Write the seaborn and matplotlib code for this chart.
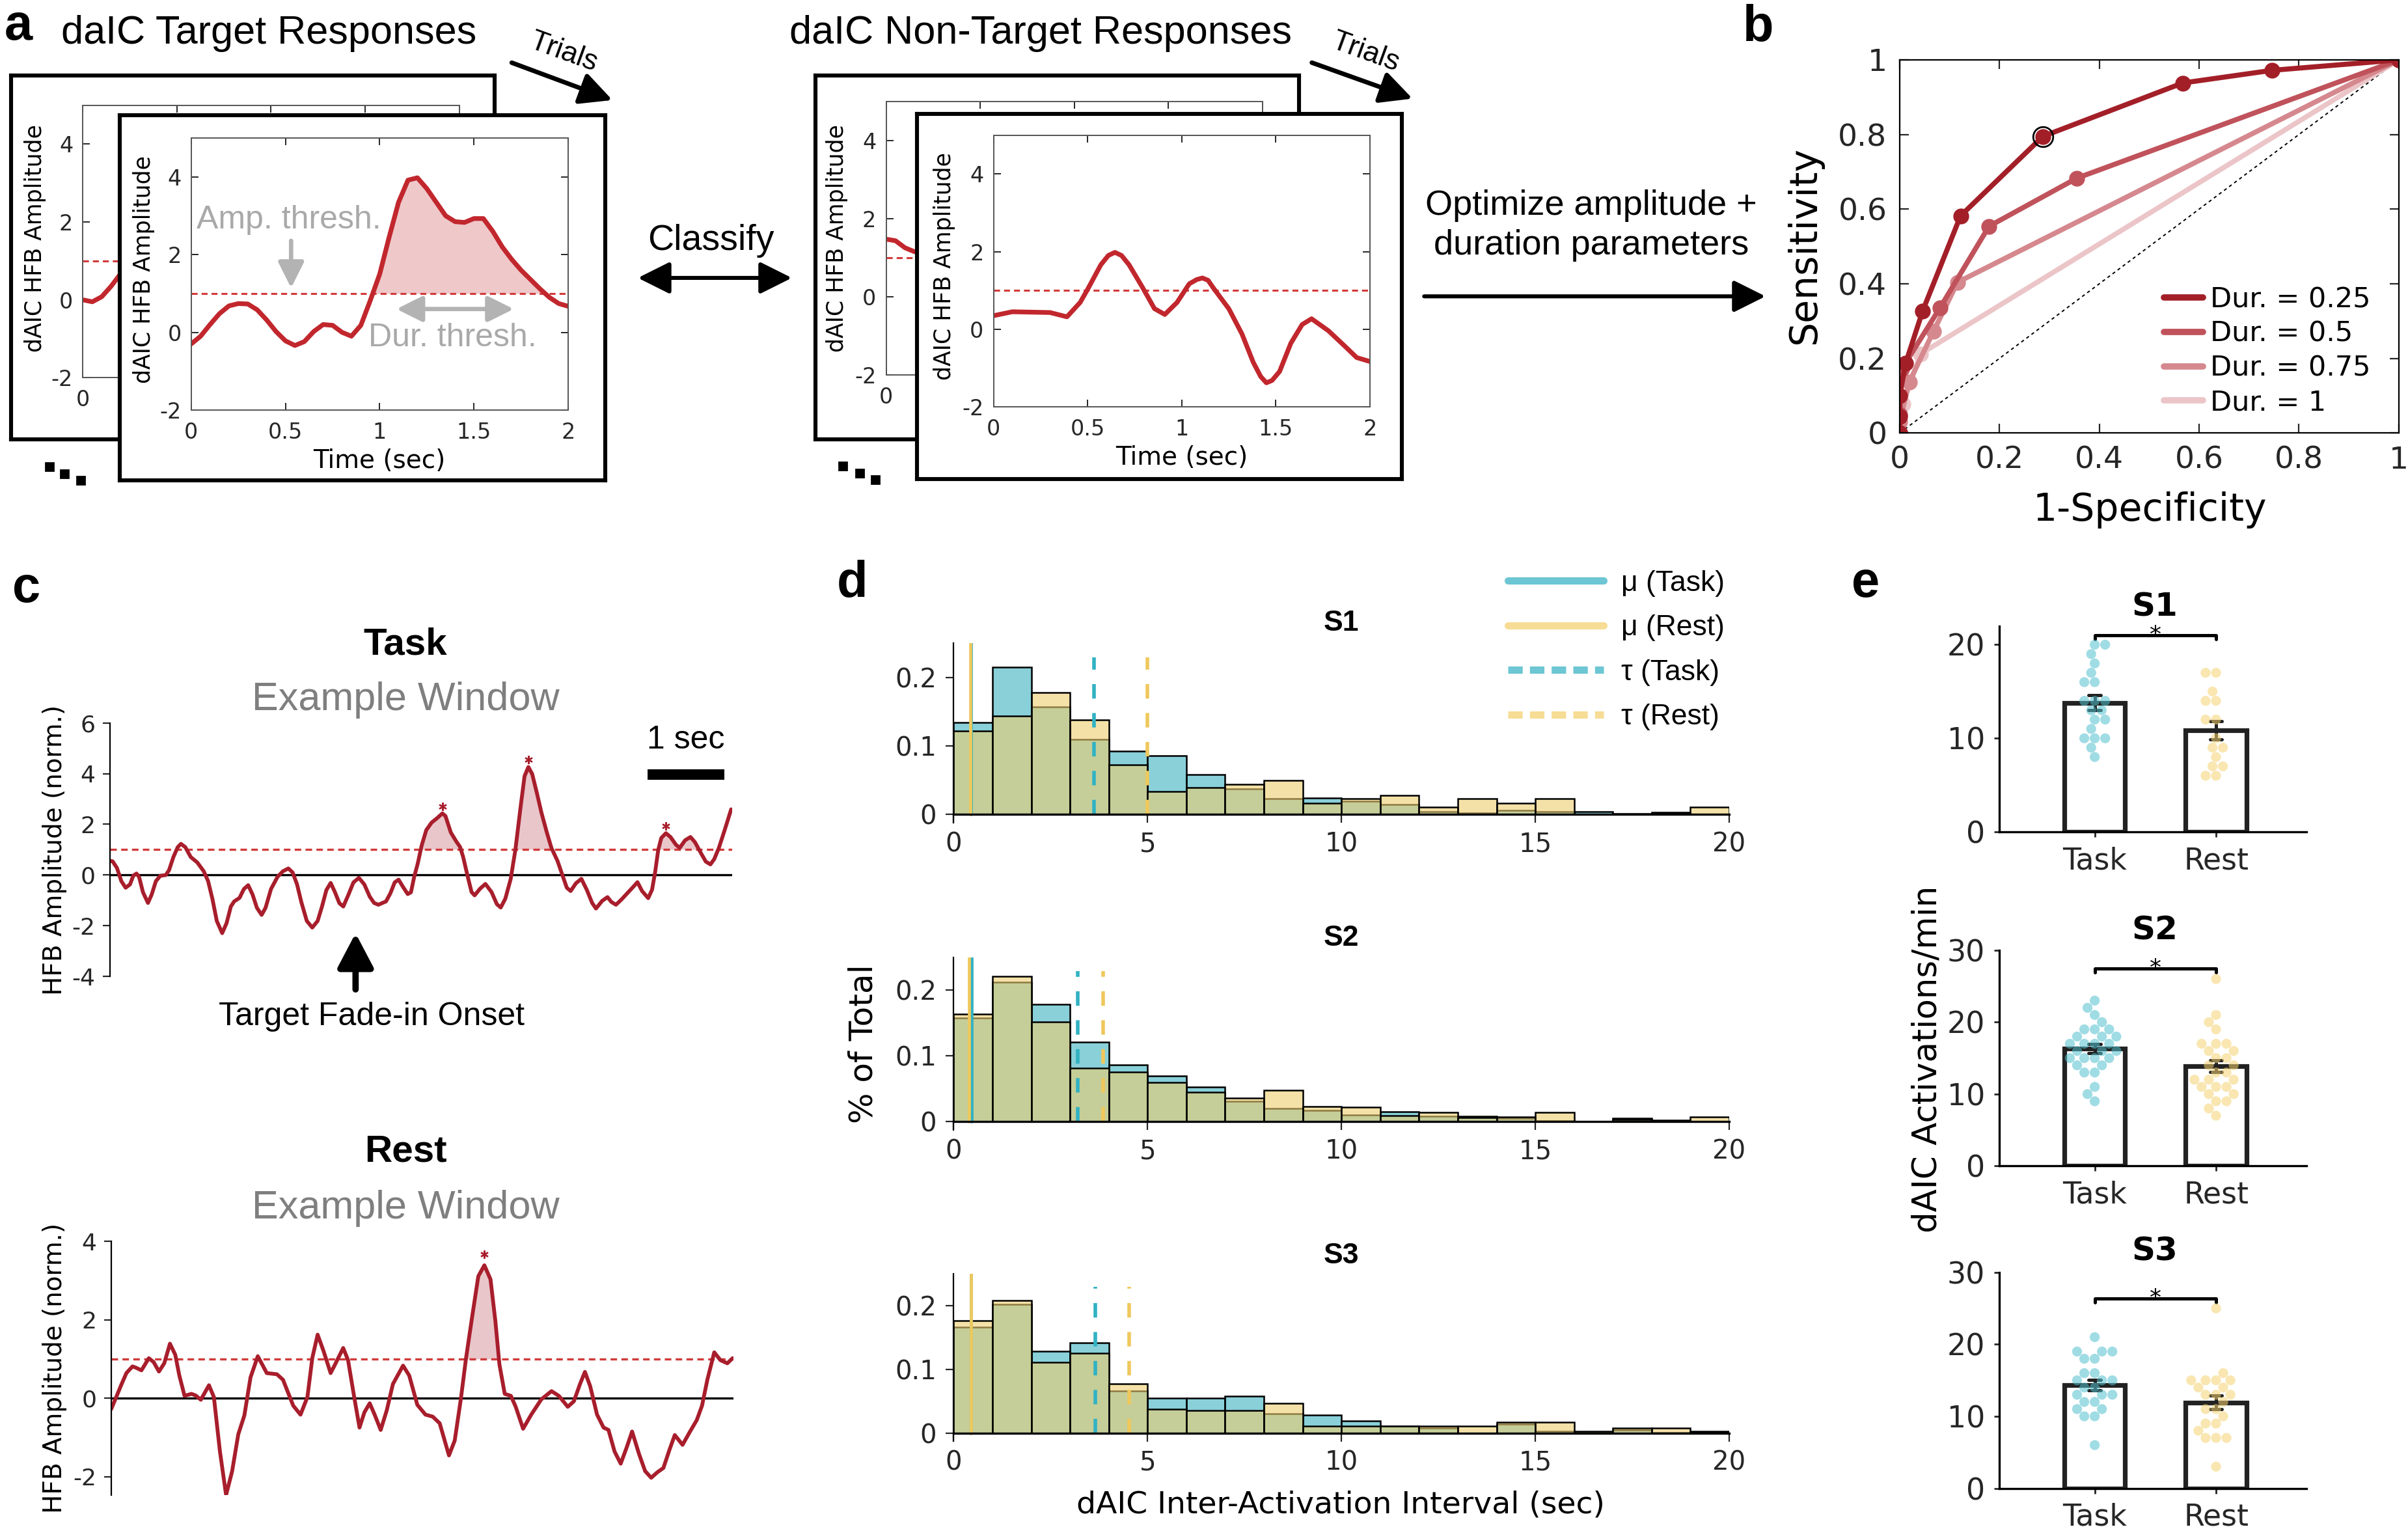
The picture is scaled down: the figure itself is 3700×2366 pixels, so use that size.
import numpy as np
import pandas as pd
import seaborn as sns
import matplotlib.pyplot as plt
from matplotlib.lines import Line2D
from matplotlib.patches import FancyArrowPatch

# ---------------- a: example dAIC HFB trials (time in sec) ----------------
target_t = [0, 0.05, 0.1, 0.15, 0.2, 0.25, 0.3, 0.35, 0.4, 0.45, 0.5, 0.55, 0.6, 0.65,
            0.7, 0.75, 0.8, 0.85, 0.9, 0.95, 1.0, 1.05, 1.1, 1.15, 1.2, 1.25, 1.3, 1.35,
            1.4, 1.45, 1.5, 1.55, 1.6, 1.65, 1.7, 1.75, 1.8, 1.85, 1.9, 1.95, 2.0]
target_y = [-0.3, -0.1, 0.2, 0.48, 0.68, 0.74, 0.73, 0.58, 0.32, 0.02, -0.22, -0.34, -0.24,
            0.02, 0.2, 0.18, 0.0, -0.1, 0.18, 0.82, 1.5, 2.45, 3.35, 3.92, 3.98, 3.7, 3.35,
            3.0, 2.85, 2.83, 2.93, 2.93, 2.6, 2.2, 1.88, 1.6, 1.36, 1.12, 0.9, 0.74, 0.67]
back_target_t = [0, 0.05, 0.1, 0.15, 0.2, 0.25, 0.3]
back_target_y = [0.0, -0.05, 0.08, 0.35, 0.67, 1.0, 1.3]

nontarget_t = [0, 0.1, 0.2, 0.3, 0.39, 0.46, 0.5, 0.57, 0.61, 0.645, 0.68, 0.72, 0.79, 0.855,
               0.91, 0.975, 1.04, 1.08, 1.11, 1.14, 1.17, 1.25, 1.32, 1.38, 1.42, 1.45, 1.48,
               1.52, 1.58, 1.64, 1.69, 1.78, 1.87, 1.93, 2.0]
nontarget_y = [0.35, 0.45, 0.44, 0.43, 0.32, 0.69, 1.03, 1.66, 1.9, 1.98, 1.9, 1.66, 1.09, 0.53,
               0.38, 0.69, 1.17, 1.28, 1.32, 1.26, 1.05, 0.53, -0.12, -0.85, -1.22, -1.38, -1.32,
               -1.09, -0.36, 0.12, 0.27, -0.04, -0.45, -0.73, -0.83]
back_nontarget_t = [0, 0.05, 0.1, 0.15, 0.2, 0.3]
back_nontarget_y = [1.47, 1.43, 1.25, 1.15, 1.12, 1.1]
amp_thresh = 1.0

# ---------------- b: ROC for each duration threshold ----------------
fpr_025 = [0, 0, 0, 0.012, 0.046, 0.122, 0.287, 0.567, 0.746, 1.0]
tpr_025 = [0, 0.044, 0.10, 0.187, 0.327, 0.582, 0.795, 0.938, 0.972, 1.0]
fpr_050 = [0, 0, 0.004, 0.081, 0.179, 0.355, 1.0]
tpr_050 = [0, 0.05, 0.171, 0.336, 0.554, 0.683, 1.0]
fpr_075 = [0, 0, 0.019, 0.068, 0.116, 1.0]
tpr_075 = [0, 0.03, 0.136, 0.273, 0.404, 1.0]
fpr_100 = [0, 0.006, 0.042, 1.0]
tpr_100 = [0, 0.077, 0.212, 1.0]
roc_best = 6

# ---------------- c: example windows (sec, normalized HFB) ----------------
task_t = [0, 0.037, 0.093, 0.15, 0.206, 0.263, 0.305, 0.347, 0.381, 0.432,
          0.497, 0.545, 0.6, 0.658, 0.729, 0.771, 0.828, 0.884, 0.926, 0.983,
          1.054, 1.138, 1.223, 1.28, 1.336, 1.393, 1.463, 1.52, 1.576, 1.619,
          1.689, 1.746, 1.802, 1.859, 1.915, 1.977, 2.028, 2.099, 2.184, 2.254,
          2.325, 2.381, 2.438, 2.494, 2.565, 2.636, 2.706, 2.763, 2.82, 2.876,
          2.932, 2.989, 3.04, 3.102, 3.172, 3.243, 3.314, 3.384, 3.441, 3.497,
          3.596, 3.653, 3.709, 3.76, 3.816, 3.879, 3.921, 3.963, 4.01, 4.06,
          4.12, 4.19, 4.26, 4.33, 4.37, 4.44, 4.51, 4.56, 4.6, 4.66,
          4.71, 4.75, 4.82, 4.89, 4.97, 5.04, 5.09, 5.15, 5.22, 5.28,
          5.35, 5.4, 5.45, 5.5, 5.56, 5.62, 5.69, 5.75, 5.83, 5.9,
          5.95, 6.0, 6.07, 6.14, 6.21, 6.28, 6.33, 6.41, 6.48, 6.53,
          6.59, 6.66, 6.74, 6.82, 6.87, 6.93, 7.01, 7.06, 7.1, 7.14,
          7.18, 7.24, 7.3, 7.37, 7.42, 7.49, 7.56, 7.62, 7.69, 7.76,
          7.82, 7.87, 7.93, 8.0, 8.09]
task_y = [0.56, 0.54, 0.28, -0.24, -0.5, -0.37, -0.03, 0.06, -0.07, -0.68,
          -1.1, -0.77, -0.24, -0.03, 0.0, 0.19, 0.71, 1.1, 1.23, 1.1,
          0.71, 0.5, 0.15, -0.24, -0.94, -1.81, -2.29, -1.9, -1.24, -1.04,
          -0.9, -0.55, -0.4, -0.77, -1.29, -1.57, -1.29, -0.55, -0.07, 0.15,
          0.26, 0.1, -0.37, -1.07, -1.81, -2.07, -1.81, -1.24, -0.59, -0.31,
          -0.68, -1.11, -1.24, -0.81, -0.29, -0.11, -0.37, -0.85, -1.1, -1.17,
          -1.04, -0.72, -0.29, -0.18, -0.46, -0.75, -0.68, -0.07, 0.46, 1.16,
          1.77, 2.07, 2.24, 2.43, 2.33, 1.68, 1.33, 1.11, 0.72, -0.06,
          -0.67, -0.8, -0.54, -0.35, -0.67, -1.15, -1.28, -0.93, -0.15, 0.98,
          2.72, 3.9, 4.26, 3.98, 3.24, 2.46, 1.68, 1.07, 0.55, -0.06,
          -0.5, -0.63, -0.32, -0.15, -0.58, -1.1, -1.32, -1.02, -0.87, -1.06,
          -1.17, -0.97, -0.71, -0.45, -0.28, -0.63, -0.91, -0.58, 0.11, 0.98,
          1.46, 1.65, 1.5, 1.2, 1.07, 1.37, 1.5, 1.29, 0.9, 0.53,
          0.42, 0.63, 1.07, 1.72, 2.59]
task_events = [4.33, 5.45, 7.24]
task_onset = 3.2

rest_t = [0, 0.066, 0.129, 0.198, 0.277, 0.32, 0.394, 0.49, 0.553, 0.622,
          0.691, 0.765, 0.834, 0.887, 0.955, 1.045, 1.099, 1.167, 1.273, 1.337,
          1.416, 1.496, 1.575, 1.655, 1.734, 1.814, 1.909, 2.026, 2.158, 2.237,
          2.37, 2.465, 2.555, 2.619, 2.688, 2.767, 2.857, 2.915, 3.021, 3.084,
          3.164, 3.233, 3.297, 3.366, 3.43, 3.509, 3.588, 3.668, 3.8, 3.88,
          3.986, 4.092, 4.186, 4.277, 4.398, 4.473, 4.552, 4.621, 4.7, 4.78,
          4.859, 4.939, 5.002, 5.055, 5.124, 5.204, 5.267, 5.363, 5.469, 5.6,
          5.733, 5.828, 5.945, 6.024, 6.104, 6.168, 6.236, 6.326, 6.411, 6.475,
          6.554, 6.634, 6.713, 6.782, 6.872, 6.952, 7.031, 7.111, 7.19, 7.27,
          7.338, 7.439, 7.534, 7.624, 7.693, 7.762, 7.852, 7.932, 8.022, 8.091]
rest_y = [-0.28, 0.03, 0.33, 0.64, 0.81, 0.78, 0.71, 1.02, 0.92, 0.68,
          0.89, 1.39, 1.11, 0.58, 0.06, 0.11, 0.07, -0.04, 0.33, 0.03,
          -1.36, -2.47, -1.86, -0.92, -0.44, 0.53, 1.07, 0.64, 0.61, 0.47,
          -0.19, -0.42, 0.03, 1.03, 1.62, 1.19, 0.64, 0.86, 1.28, 0.97,
          0.03, -0.75, -0.36, -0.13, -0.42, -0.81, -0.31, 0.36, 0.83, 0.58,
          -0.17, -0.42, -0.47, -0.64, -1.46, -1.08, -0.03, 1.03, 2.08, 3.11,
          3.39, 3.03, 1.97, 0.86, 0.11, 0.06, -0.22, -0.78, -0.42, -0.03,
          0.18, 0.06, -0.22, -0.08, 0.36, 0.67, 0.31, -0.42, -0.75, -0.81,
          -1.36, -1.67, -1.25, -0.85, -1.42, -1.86, -2.03, -1.89, -1.78, -1.31,
          -0.94, -1.19, -0.86, -0.56, -0.19, 0.47, 1.17, 0.97, 0.89, 1.02]
rest_events = [4.859]

# ---------------- d: inter-activation interval histograms (1-sec bins) ----------------
bin_edges = list(range(0, 21))
s1_task = [0.134, 0.215, 0.157, 0.109, 0.092, 0.086, 0.058, 0.037, 0.023, 0.024,
           0.019, 0.014, 0.004, 0.002, 0.006, 0.004, 0.004, 0.001, 0.003, 0.0005]
s1_rest = [0.122, 0.144, 0.178, 0.138, 0.072, 0.033, 0.039, 0.044, 0.050, 0.016,
           0.023, 0.028, 0.011, 0.023, 0.016, 0.023, 0.0, 0.0005, 0.001, 0.011]
s2_task = [0.158, 0.212, 0.179, 0.121, 0.086, 0.070, 0.053, 0.031, 0.020, 0.017,
           0.010, 0.015, 0.008, 0.008, 0.005, 0.001, 0.0, 0.005, 0.0025, 0.0005]
s2_rest = [0.164, 0.221, 0.152, 0.081, 0.075, 0.060, 0.045, 0.036, 0.048, 0.023,
           0.022, 0.009, 0.014, 0.006, 0.007, 0.014, 0.0, 0.003, 0.0015, 0.007]
s3_task = [0.166, 0.202, 0.128, 0.141, 0.066, 0.055, 0.055, 0.058, 0.030, 0.028,
           0.019, 0.0105, 0.008, 0.0, 0.014, 0.0025, 0.001, 0.005, 0.001, 0.0025]
s3_rest = [0.176, 0.208, 0.111, 0.125, 0.077, 0.037, 0.035, 0.035, 0.047, 0.011,
           0.011, 0.011, 0.011, 0.011, 0.017, 0.017, 0.0025, 0.008, 0.008, 0.0015]
mu_task = [0.44, 0.47, 0.44]
mu_rest = [0.43, 0.40, 0.44]
tau_task = [3.62, 3.2, 3.66]
tau_rest = [5.0, 3.86, 4.53]

# ---------------- e: activation rate per window ----------------
conds = ['Task', 'Rest']
s1_task_rate = [20, 20, 19, 18, 17, 16, 16, 14, 14, 14, 13, 13, 12, 12, 11, 10, 10, 10, 9, 8]
s1_rest_rate = [17, 17, 15, 14, 14, 12, 12, 10, 9, 9, 8, 7, 7, 6, 6]
s2_task_rate = [23, 22, 21, 20, 19, 19, 19, 18, 18, 18, 17, 17, 17, 17, 16, 16, 16, 15, 15,
                15, 15, 14, 14, 13, 13, 11, 10, 9]
s2_rest_rate = [26, 21, 20, 19, 17, 17, 17, 16, 16, 15, 15, 14, 14, 13, 13, 12, 12, 12, 11,
                11, 11, 10, 10, 9, 9, 8, 7]
s3_task_rate = [21, 19, 19, 19, 18, 18, 16, 16, 15, 15, 15, 14, 14, 13, 13, 13, 12, 12, 11,
                11, 10, 10, 6]
s3_rest_rate = [25, 16, 15, 15, 15, 15, 14, 14, 13, 13, 13, 12, 11, 11, 10, 9, 9, 8, 7, 7, 7, 3]

# ---------------- style ----------------
sns.set_theme(style="ticks")
plt.rcParams['font.family'] = ['DejaVu Sans']
plt.rcParams['text.color'] = 'black'
plt.rcParams['axes.edgecolor'] = 'black'
SANS = ['Liberation Sans', 'DejaVu Sans']

LINE_RED = '#c1272d'
THR_RED = '#d23a3a'
WIN_RED = '#a81e2c'
ROC_C = ['#a31f28', '#c0525b', '#d5888e', '#ebc5c8']
TASK_C = '#3bb1c1'
REST_C = '#eecd6e'
TASK_L = '#31b2c3'
REST_L = '#efc85c'

W, H = 1568, 1003
fig = plt.figure(figsize=(18.5, 11.83), dpi=200)


def rect(x0, y0, x1, y1):
    return [x0 / W, 1 - y1 / H, (x1 - x0) / W, (y1 - y0) / H]


def fpos(x, y):
    return (x / W, 1 - y / H)


def ftext(x, y, s, **kw):
    kw.setdefault('ha', 'center')
    kw.setdefault('va', 'center')
    fig.text(x / W, 1 - y / H, s, **kw)


def farrow(p0, p1, style, lw=2.2, ms=25, color='black'):
    fig.add_artist(FancyArrowPatch(fpos(*p0), fpos(*p1), transform=fig.transFigure,
                                   arrowstyle=style, mutation_scale=ms, lw=lw, color=color))


def frame(x0, y0, x1, y1):
    fr = fig.add_axes(rect(x0, y0, x1, y1))
    fr.set_xticks([])
    fr.set_yticks([])
    fr.set_facecolor('white')
    for s in fr.spines.values():
        s.set_visible(True)
        s.set_linewidth(2.2)
        s.set_color('black')
    return fr


def trial_axes(x0, y0, x1, y1, t, y, behind=False):
    ax = fig.add_axes(rect(x0, y0, x1, y1))
    ax.axhline(amp_thresh, color=THR_RED, lw=1.1, dashes=(3, 2))
    sns.lineplot(x=t, y=y, estimator=None, sort=False, color=LINE_RED, lw=2.6, ax=ax)
    ax.set_xlim(0, 2)
    ax.set_ylim(-2, 5)
    # a trial lying behind another only shows its first x label
    xl = ['0', '', '', '', ''] if behind else ['0', '0.5', '1', '1.5', '2']
    ax.set_xticks([0, 0.5, 1, 1.5, 2], xl)
    ax.set_yticks([-2, 0, 2, 4], ['-2', '0', '2', '4'])
    ax.tick_params(direction='in', top=True, right=True, bottom=True, left=True,
                   length=4, width=0.7, labelsize=12)
    ax.tick_params(axis='x', pad=6.5)
    ax.tick_params(axis='y', pad=5.5)
    for s in ax.spines.values():
        s.set_linewidth(0.7)
        s.set_color('#555555')
    ax.set_xlabel('')
    ax.set_ylabel('')
    return ax


# ================= panel a =================
ftext(12, 17, 'a', fontsize=28, fontweight='bold', family=SANS)
ftext(40, 22, 'daIC Target Responses', ha='left', fontsize=22, family=SANS)
ftext(514, 22, 'daIC Non-Target Responses', ha='left', fontsize=22, family=SANS)

# target stack
frame(7, 49, 322, 286)
trial_axes(54, 68.5, 299, 246, back_target_t, back_target_y, behind=True)
ftext(23, 155, 'dAIC HFB Amplitude', rotation=90, fontsize=12.5)
frame(78, 75, 394, 313)
axa = trial_axes(124.5, 90, 370, 267, target_t, target_y)
ty = np.array(target_y)
axa.fill_between(target_t, ty, amp_thresh, where=ty > amp_thresh, interpolate=True,
                 color=LINE_RED, alpha=0.25, lw=0)
axa.text(0.03, 2.9, 'Amp. thresh.', color='#a9a9a9', fontsize=18, family=SANS,
         ha='left', va='center')
axa.annotate('', xy=(0.53, 1.05), xytext=(0.53, 2.45),
             arrowprops=dict(arrowstyle='-|>,head_width=0.3,head_length=0.6',
                             color='#b3b3b3', lw=2.4, mutation_scale=20))
axa.annotate('', xy=(1.73, 0.6), xytext=(1.07, 0.6),
             arrowprops=dict(arrowstyle='<|-|>,head_width=0.3,head_length=0.6',
                             color='#b3b3b3', lw=2.4, mutation_scale=20))
axa.text(0.94, -0.14, 'Dur. thresh.', color='#a9a9a9', fontsize=18, family=SANS,
         ha='left', va='center')
ftext(93.7, 175.5, 'dAIC HFB Amplitude', rotation=90, fontsize=12.5)
ftext(247, 300.3, 'Time (sec)', fontsize=14)

# non-target stack
frame(531, 49, 846, 286)
trial_axes(577, 66, 822, 244, back_nontarget_t, back_nontarget_y, behind=True)
ftext(545, 155, 'dAIC HFB Amplitude', rotation=90, fontsize=12.5)
frame(597, 74, 913, 312)
trial_axes(647, 88, 892, 265, nontarget_t, nontarget_y)
ftext(615, 173.5, 'dAIC HFB Amplitude', rotation=90, fontsize=12.5)
ftext(769.5, 298, 'Time (sec)', fontsize=14)

# trial arrows, dots and flow arrows
for (tx, ty_), a0, a1 in [((367, 34), (331, 40), (401, 66)), ((889, 34), (852, 40), (922, 65))]:
    ftext(tx, ty_, 'Trials', rotation=-20, fontsize=16, family=SANS)
    farrow(a0, a1, '-|>,head_width=0.3,head_length=0.6', lw=2.5)
for dots in [[(32, 304), (42, 308.5), (52.5, 313)], [(549, 303.6), (560, 308), (570, 312.5)]]:
    xs, ys = zip(*[fpos(*p) for p in dots])
    fig.add_artist(Line2D(xs, ys, transform=fig.transFigure, ls='none', marker='s',
                          ms=4.5, color='black'))
ftext(463, 157, 'Classify', fontsize=20, family=SANS)
farrow((413, 181), (518, 181), '<|-|>,head_width=0.3,head_length=0.6', lw=2.2)
ftext(1036, 134, 'Optimize amplitude +', fontsize=19.5, family=SANS)
ftext(1036, 160, 'duration parameters', fontsize=19.5, family=SANS)
farrow((925, 193), (1152, 193), '-|>,head_width=0.3,head_length=0.6', lw=2.2)

# ================= panel b =================
ftext(1145, 18, 'b', fontsize=28, fontweight='bold', family=SANS)
axb = fig.add_axes(rect(1237, 39, 1562, 282))
axb.plot([0, 1], [0, 1], color='black', lw=0.7, dashes=(2.5, 2.5))
roc = [(fpr_100, tpr_100, ROC_C[3]), (fpr_075, tpr_075, ROC_C[2]),
       (fpr_050, tpr_050, ROC_C[1]), (fpr_025, tpr_025, ROC_C[0])]
for fx_, ty_, c in roc:
    sns.lineplot(x=fx_, y=ty_, estimator=None, sort=False, color=c, lw=2.8, marker='o',
                 ms=8, mfc=c, mec=c, ax=axb)
axb.plot(fpr_025[roc_best], tpr_025[roc_best], 'o', ms=11, mfc='none', mec='black', mew=1)
axb.set_xlim(0, 1)
axb.set_ylim(0, 1)
ticks = [0, 0.2, 0.4, 0.6, 0.8, 1]
tlabs = ['0', '0.2', '0.4', '0.6', '0.8', '1']
axb.set_xticks(ticks, tlabs)
axb.set_yticks(ticks, tlabs)
axb.tick_params(direction='in', top=True, right=True, bottom=True, left=True,
                length=5, width=0.8, labelsize=17, pad=7)
for s in axb.spines.values():
    s.set_linewidth(0.8)
axb.set_xlabel('')
axb.set_ylabel('')
handles = [Line2D([], [], color=c, lw=3.5) for c in ROC_C]
axb.legend(handles, ['Dur. = 0.25', 'Dur. = 0.5', 'Dur. = 0.75', 'Dur. = 1'],
           loc='lower right', bbox_to_anchor=(0.955, 0.03), frameon=False, fontsize=15.5,
           handlelength=1.4, handletextpad=0.25, labelspacing=0.25, borderaxespad=0.0,
           borderpad=0.2)
ftext(1175, 160, 'Sensitivity', rotation=90, fontsize=21)
ftext(1400, 332, '1-Specificity', fontsize=21)


# ================= panel c =================
def window_axes(r, t, y, events, ylim, yticks):
    ax = fig.add_axes(rect(*r))
    t = np.asarray(t)
    y = np.asarray(y)
    ax.axhline(0, color='black', lw=1.2)
    ax.axhline(amp_thresh, color=THR_RED, lw=1.2, dashes=(3, 2))
    above = y > amp_thresh
    mask = np.zeros_like(above)
    i = 0
    while i < len(y):
        if above[i]:
            j = i
            while j + 1 < len(y) and above[j + 1]:
                j += 1
            lo = t[max(i - 1, 0)]
            hi = t[min(j + 1, len(t) - 1)]
            if any(lo <= e <= hi for e in events):
                mask[i:j + 1] = True
            i = j + 1
        else:
            i += 1
    ax.fill_between(t, y, amp_thresh, where=mask, interpolate=True,
                    color=WIN_RED, alpha=0.25, lw=0)
    sns.lineplot(x=t, y=y, estimator=None, sort=False, color=WIN_RED, lw=2.1, ax=ax)
    for e in events:
        k = int(np.argmin(np.abs(t - e)))
        ax.plot(t[k], y[k] + 0.28, marker=(6, 2, 0), ms=4.5, mew=0.8, color=WIN_RED)
    ax.set_xlim(0, 8.1)
    ax.set_ylim(*ylim)
    ax.set_yticks(yticks, [str(v) for v in yticks])
    ax.set_xticks([])
    for side in ['top', 'right', 'bottom']:
        ax.spines[side].set_visible(False)
    ax.spines['left'].set_linewidth(0.8)
    ax.tick_params(axis='y', direction='out', left=True, length=4, width=0.8,
                   labelsize=13, pad=4)
    ax.set_xlabel('')
    ax.set_ylabel('')
    ax.patch.set_alpha(0)
    return ax


ftext(17, 383.5, 'c', fontsize=28, fontweight='bold', family=SANS)
ftext(264, 420, 'Task', fontsize=21, fontweight='bold', family=SANS)
ftext(264, 456, 'Example Window', fontsize=22, color='#7f7f7f', family=SANS)
axc1 = window_axes((71.5, 470.8, 476.6, 636), task_t, task_y, task_events, (-4, 6),
                   [-4, -2, 0, 2, 4, 6])
axc1.plot([7, 8], [3.97, 3.97], color='black', lw=5.8, solid_capstyle='butt')
axc1.text(7.5, 5.33, '1 sec', ha='center', va='center', fontsize=18, family=SANS)
axc1.annotate('', xy=(task_onset, -2.15), xytext=(task_onset, -4.65), annotation_clip=False,
              arrowprops=dict(arrowstyle='-|>,head_width=0.42,head_length=0.8',
                              color='black', lw=3.5, mutation_scale=20))
ftext(242, 662, 'Target Fade-in Onset', fontsize=18, family=SANS)
ftext(35.7, 553.5, 'HFB Amplitude (norm.)', rotation=90, fontsize=14)

ftext(264, 750, 'Rest', fontsize=21, fontweight='bold', family=SANS)
ftext(264, 787, 'Example Window', fontsize=22, color='#7f7f7f', family=SANS)
window_axes((72.4, 808.5, 477.5, 973.7), rest_t, rest_y, rest_events, (-2.47, 4),
            [-2, 0, 2, 4])
ftext(35.7, 891, 'HFB Amplitude (norm.)', rotation=90, fontsize=14)

# ================= panel d =================
ftext(555, 380, 'd', fontsize=28, fontweight='bold', family=SANS)
centers = [(a + b) / 2 for a, b in zip(bin_edges[:-1], bin_edges[1:])]
hist_sets = [((621, 418.8, 1126, 536), s1_task, s1_rest, 'S1', 406),
             ((621, 623.6, 1126, 735.8), s2_task, s2_rest, 'S2', 611),
             ((621, 829.5, 1126, 938.5), s3_task, s3_rest, 'S3', 818)]
for k, (r, tv, rv, name, ty_) in enumerate(hist_sets):
    ax = fig.add_axes(rect(*r))
    hd = pd.DataFrame({'iai': centers, 'task': tv, 'rest': rv})
    sns.histplot(data=hd, x='iai', weights='task', bins=bin_edges, color=TASK_C, alpha=0.6,
                 edgecolor='black', linewidth=0.9, ax=ax)
    sns.histplot(data=hd, x='iai', weights='rest', bins=bin_edges, color=REST_C, alpha=0.6,
                 edgecolor='black', linewidth=0.9, ax=ax)
    ax.plot([mu_task[k]] * 2, [0, 0.25], color=TASK_L, lw=1.7)
    ax.plot([mu_rest[k]] * 2, [0, 0.25], color=REST_L, lw=1.7)
    ax.plot([tau_task[k]] * 2, [0, 0.229], color=TASK_L, lw=2, dashes=(4, 4))
    ax.plot([tau_rest[k]] * 2, [0, 0.229], color=REST_L, lw=2, dashes=(4, 4))
    ax.set_xlim(0, 20)
    ax.set_ylim(-0.0125, 0.25)
    ax.set_xticks([0, 5, 10, 15, 20], ['0', '5', '10', '15', '20'])
    ax.set_yticks([0, 0.1, 0.2], ['0', '0.1', '0.2'])
    ax.spines['bottom'].set_position(('data', 0))
    ax.spines['bottom'].set_linewidth(1.2)
    ax.spines['left'].set_linewidth(0.8)
    for side in ['top', 'right']:
        ax.spines[side].set_visible(False)
    ax.tick_params(direction='out', bottom=True, left=True, length=4.5, width=0.8,
                   labelsize=14.5, pad=5)
    ax.set_xlabel('')
    ax.set_ylabel('')
    ax.patch.set_alpha(0)
    ftext(873.5, ty_, name, fontsize=16, fontweight='bold', family=SANS)
leg_handles = [Line2D([], [], color='#6cc6d3', lw=4), Line2D([], [], color='#f6dc95', lw=4),
               Line2D([], [], color='#6cc6d3', lw=4, dashes=(2, 1)),
               Line2D([], [], color='#f6dc95', lw=4, dashes=(2, 1))]
fig.legend(leg_handles, ['\u03bc (Task)', '\u03bc (Rest)', '\u03c4 (Task)', '\u03c4 (Rest)'],
           loc='upper right', bbox_to_anchor=fpos(1136, 358), frameon=False,
           prop={'family': SANS, 'size': 16}, handlelength=3.3, handletextpad=0.6,
           labelspacing=0.62, borderpad=0.2)
ftext(562, 680, '% of Total', rotation=90, fontsize=18)
ftext(873, 980, 'dAIC Inter-Activation Interval (sec)', fontsize=17)

# ================= panel e =================
ftext(1215, 380, 'e', fontsize=28, fontweight='bold', family=SANS)
rate_sets = [((1302, 407.7, 1502, 541.8), s1_task_rate, s1_rest_rate, 22, [0, 10, 20], 21.0,
              'S1', 395.5),
             ((1302, 618.9, 1502, 759.4), s2_task_rate, s2_rest_rate, 30, [0, 10, 20, 30], 27.5,
              'S2', 606),
             ((1302, 828.7, 1502, 969.3), s3_task_rate, s3_rest_rate, 30, [0, 10, 20, 30], 26.4,
              'S3', 815)]
for r, tr, rr, ymax, yt, sig, name, ty_ in rate_sets:
    ax = fig.add_axes(rect(*r))
    df = pd.DataFrame({'cond': ['Task'] * len(tr) + ['Rest'] * len(rr), 'rate': tr + rr})
    sns.barplot(data=df, x='cond', y='rate', order=conds, errorbar='se', capsize=0.1,
                width=0.5, color='white', edgecolor='#222222', linewidth=2.6,
                err_kws={'color': '#222222', 'linewidth': 1.8}, ax=ax)
    sns.swarmplot(data=df, x='cond', y='rate', hue='cond', order=conds, hue_order=conds,
                  palette={'Task': '#52c0cf', 'Rest': '#f5d271'}, size=5.5, alpha=0.55,
                  linewidth=0, legend=False, ax=ax)
    d = 0.02 * ymax
    ax.plot([0, 0, 1, 1], [sig - d, sig, sig, sig - d], color='black', lw=1.8)
    ax.text(0.5, sig, '*', ha='center', va='center', fontsize=13)
    ax.set_xlim(-0.785, 1.747)
    ax.set_ylim(0, ymax)
    ax.set_yticks(yt, [str(v) for v in yt])
    for side in ['top', 'right']:
        ax.spines[side].set_visible(False)
    for side in ['left', 'bottom']:
        ax.spines[side].set_linewidth(1.2)
    ax.tick_params(direction='out', bottom=True, left=True, length=3, width=1,
                   labelsize=16.5, pad=5)
    ax.set_xlabel('')
    ax.set_ylabel('')
    ax.patch.set_alpha(0)
    ftext(1403, ty_, name, fontsize=18, fontweight='bold')
ftext(1255, 690, 'dAIC Activations/min', rotation=90, fontsize=18.5)

fig.savefig('out.png', dpi=200)
